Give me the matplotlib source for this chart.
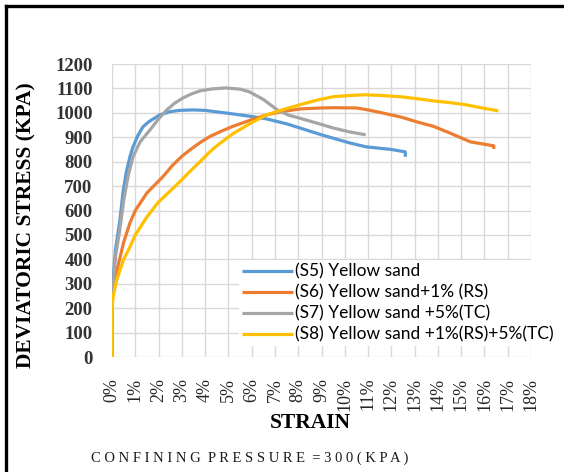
import matplotlib.pyplot as plt
from matplotlib.lines import Line2D

# Deviatoric stress vs strain, confining pressure 300 kPa
strain_s5 = [0, 0.0, 0.05, 0.15, 0.34, 0.48, 0.62, 0.77, 0.9, 1.1, 1.33, 1.6, 2.06, 2.5, 2.9,
             3.5, 4.0, 5.0, 6.0, 6.65, 7.5, 8.07, 9.0, 10.2, 10.9, 12.0, 12.6, 12.6]
stress_s5 = [0, 250, 320, 440, 561, 680, 760, 820, 860, 905, 943, 965, 992, 1005, 1010,
             1012, 1010, 998, 985, 975, 955, 938, 910, 877, 861, 850, 840, 820]

strain_s6 = [0, 0.0, 0.05, 0.2, 0.5, 0.77, 1.0, 1.5, 2.2, 2.6, 3.0, 3.4, 3.78, 4.2, 4.7,
             5.2, 6.0, 6.65, 7.3, 8.07, 9.0, 9.5, 10.5, 11.0, 11.6, 12.4, 13.1, 13.8,
             14.5, 15.4, 16.4, 16.4]
stress_s6 = [0, 230, 270, 350, 470, 549, 600, 672, 740, 785, 822, 852, 878, 903, 925,
             945, 972, 992, 1005, 1016, 1020, 1021, 1020, 1012, 1000, 983, 963, 945,
             918, 881, 865, 852]

strain_s7 = [0, 0.0, 0.05, 0.15, 0.34, 0.5, 0.7, 0.9, 1.2, 1.63, 2.0, 2.35, 2.7, 3.05, 3.4,
             3.78, 4.3, 4.9, 5.5, 5.9, 6.5, 7.1, 7.6, 8.07, 8.8, 9.5, 10.2, 10.9]
stress_s7 = [0, 240, 300, 410, 525, 640, 745, 820, 880, 930, 975, 1012, 1040, 1061, 1077,
             1090, 1098, 1102, 1097, 1086, 1055, 1012, 990, 978, 958, 938, 922, 910]

strain_s8 = [0, 0.0, 0.05, 0.2, 0.5, 0.77, 1.0, 1.5, 2.0, 2.5, 2.9, 3.4, 3.78, 4.2, 4.5,
             5.2, 6.0, 6.65, 7.3, 8.07, 8.8, 9.5, 10.2, 10.9, 11.6, 12.4, 13.1, 13.8,
             14.5, 15.2, 15.9, 16.6]
stress_s8 = [0, 200, 250, 315, 400, 451, 500, 574, 635, 680, 717, 765, 800, 840, 865,
             915, 960, 992, 1012, 1033, 1052, 1066, 1071, 1074, 1071, 1066, 1058, 1049,
             1042, 1033, 1020, 1008]

labels = ["(S5) Yellow sand", "(S6) Yellow sand+1% (RS)",
          "(S7) Yellow sand +5%(TC)", "(S8) Yellow sand +1%(RS)+5%(TC)"]
colors = ["#5B9BD5", "#ED7D31", "#A5A5A5", "#FFC000"]
x_ticks = list(range(0, 19))
y_ticks = list(range(0, 1201, 100))

fig = plt.figure(figsize=(5.64, 4.72), dpi=100)
ax = fig.add_axes([0.1986, 0.2436, 0.7429, 0.6208])

series = [(strain_s5, stress_s5), (strain_s6, stress_s6),
          (strain_s7, stress_s7), (strain_s8, stress_s8)]
for (x, y), c, lab in zip(series, colors, labels):
    ax.plot(x, y, color=c, lw=2.3, label=lab, solid_capstyle="butt", solid_joinstyle="round")

ax.set_xlim(0, 18)
ax.set_ylim(0, 1200)
ax.set_xticks(x_ticks)
ax.set_xticklabels([f"{t}%" for t in x_ticks], rotation=90,
                   fontfamily="Liberation Serif", fontsize=13, color="#262626")
ax.set_yticks(y_ticks)
ax.set_yticklabels([str(t) for t in y_ticks], fontfamily="Liberation Serif",
                   fontsize=13.5, fontweight="bold", color="#333333")
ax.grid(True, color="#d9d9d9", lw=1)
ax.set_axisbelow(True)
for s in ax.spines.values():
    s.set_visible(False)
ax.tick_params(axis="x", length=0, pad=15)
ax.tick_params(axis="y", length=0, pad=14)

ax.set_ylabel("DEVIATORIC STRESS (KPA)", fontfamily="Liberation Serif",
              fontsize=15.5, fontweight="bold")
ax.yaxis.set_label_coords(-0.18, 0.45)
fig.text(0.551, 0.104, "STRAIN", ha="center", va="center",
         fontfamily="Liberation Serif", fontsize=15.5, fontweight="bold")
fig.text(0.442, 0.03, "C O N F I N I N G  P R E S S U R E  = 3 0 0 ( K P A )",
         ha="center", va="center", fontfamily="Liberation Serif", fontsize=10.5,
         color="#1a1a1a")

leg = ax.legend(loc="center left", bbox_to_anchor=(0.303, 0.184), frameon=True,
                fancybox=False, edgecolor="white", framealpha=1,
                prop={"family": "Lato", "size": 12.5},
                handlelength=2.9, handletextpad=0.15, labelspacing=0.28,
                borderpad=0.2, borderaxespad=0.0)
leg.get_frame().set_linewidth(0)

# frame lines along the top and left edges
fig.add_artist(Line2D([0.011, 1.0], [0.987, 0.987], transform=fig.transFigure,
                      color="black", lw=2.4))
fig.add_artist(Line2D([0.011, 0.011], [0.0, 0.987], transform=fig.transFigure,
                      color="black", lw=2.4))

fig.savefig("out.png", dpi=100)
